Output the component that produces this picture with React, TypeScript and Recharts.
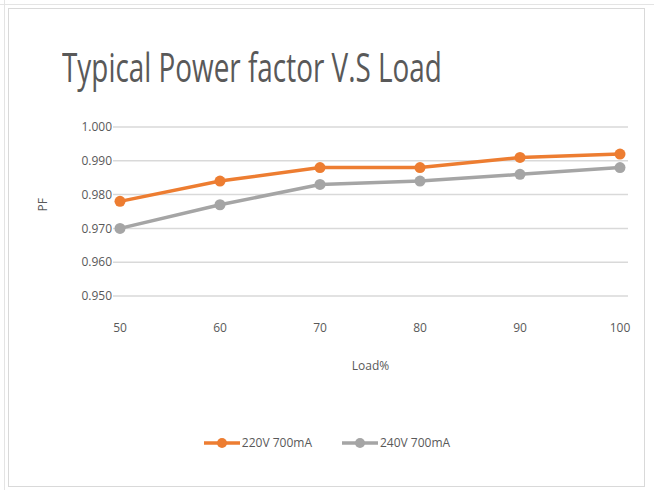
import React from "react";
import { LineChart, Line, XAxis, YAxis, CartesianGrid, Legend } from "recharts";

const loads = [50, 60, 70, 80, 90, 100];
const pf220 = [0.978, 0.984, 0.988, 0.988, 0.991, 0.992];
const pf240 = [0.970, 0.977, 0.983, 0.984, 0.986, 0.988];
const yTicks = [0.95, 0.96, 0.97, 0.98, 0.99, 1.0];

const data = loads.map((load, i) => ({ load, a: pf220[i], b: pf240[i] }));

const ORANGE = "#ED7D31";
const GRAY = "#A5A5A5";
const TEXT = "#595959";
const FONT = "'Open Sans', 'Liberation Sans', sans-serif";

function LegendBox({ payload }: { payload?: { value: string; color: string }[] }) {
  return (
    <div style={{ display: "flex", justifyContent: "center", gap: "30px", fontFamily: FONT, fontSize: "12px", color: TEXT }}>
      {(payload || []).map(p => (
        <div key={p.value} style={{ display: "flex", alignItems: "center", gap: "2px" }}>
          <svg width={36} height={12}>
            <line x1={0} y1={6} x2={36} y2={6} stroke={p.color} strokeWidth={3.5} />
            <circle cx={18} cy={6} r={5} fill={p.color} />
          </svg>
          <span>{p.value}</span>
        </div>
      ))}
    </div>
  );
}

export default function App() {
  return (
    <div style={{ position: "absolute", left: 0, top: 0, width: 654, height: 490, background: "#fff", overflow: "hidden" }}>
      {/* spreadsheet edges behind the chart */}
      <div style={{ position: "absolute", left: 0, top: 4, width: 654, height: 1, background: "#e4e4e4" }} />
      <div style={{ position: "absolute", left: 4, top: 0, width: 1, height: 490, background: "#e4e4e4" }} />
      <div style={{ position: "absolute", left: 8, top: 8, width: 637, height: 479, border: "1px solid #d9d9d9", boxSizing: "border-box" }} />

      <div style={{
        position: "absolute", left: 62, top: 38, fontFamily: FONT,
        fontSize: "41px", color: TEXT, whiteSpace: "nowrap",
        transform: "scaleX(0.68)", transformOrigin: "left top",
      }}>
        Typical Power factor V.S Load
      </div>

      <div style={{ position: "absolute", left: 0, top: 0 }}>
        <LineChart width={654} height={490} data={data} margin={{ top: 127, right: 26, bottom: 114, left: 53 }}>
          <CartesianGrid vertical={false} stroke="#d9d9d9" strokeWidth={1.5} />
          <XAxis
            dataKey="load" type="number" domain={[50, 100]} ticks={loads} padding={{ left: 7, right: 8 }}
            axisLine={false} tickLine={false} tickSize={0} tickMargin={27} height={80}
            tick={{ fill: TEXT, fontSize: 12, fontFamily: FONT }}
            label={{ value: "Load%", position: "insideBottom", offset: 6, fill: TEXT, fontSize: 12, fontFamily: FONT }}
          />
          <YAxis
            type="number" domain={[0.95, 1.0]} ticks={yTicks}
            axisLine={false} tickLine={false} tickSize={0} tickMargin={1} width={60}
            tickFormatter={(v: number) => v.toFixed(3)}
            tick={{ fill: TEXT, fontSize: 12, fontFamily: FONT }}
            label={{ value: "PF", angle: -90, position: "insideLeft", offset: -10, fill: TEXT, fontSize: 12, fontFamily: FONT }}
          />
          <Legend verticalAlign="middle" align="center" layout="horizontal"
            wrapperStyle={{ top: 434, left: 0, width: 654 }} content={<LegendBox />} />
          <Line dataKey="a" name="220V 700mA" stroke={ORANGE} strokeWidth={3.5}
            dot={{ r: 5.5, fill: ORANGE, stroke: ORANGE, strokeWidth: 0 }} isAnimationActive={false} />
          <Line dataKey="b" name="240V 700mA" stroke={GRAY} strokeWidth={3.5}
            dot={{ r: 5.5, fill: GRAY, stroke: GRAY, strokeWidth: 0 }} isAnimationActive={false} />
        </LineChart>
      </div>
    </div>
  );
}
